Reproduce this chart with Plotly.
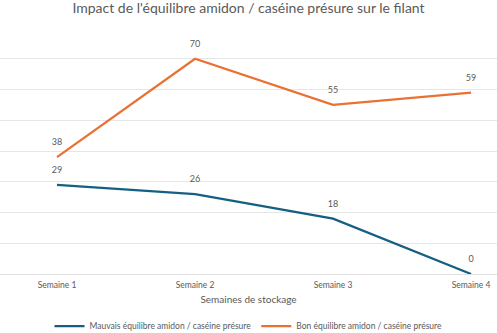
import plotly.graph_objects as go

categories = ["Semaine 1", "Semaine 2", "Semaine 3", "Semaine 4"]
mauvais = [29, 26, 18, 0]
bon = [38, 70, 55, 59]
name_mauvais = "Mauvais équilibre amidon / caséine présure"
name_bon = "Bon équilibre amidon / caséine présure"

FONT = "Lato"
GREY = "#595959"

fig = go.Figure()
for vals, name, color in [(mauvais, name_mauvais, "#156082"), (bon, name_bon, "#E97132")]:
    fig.add_trace(go.Scatter(
        x=list(range(len(categories))), y=vals, name=name,
        mode="lines+markers+text", text=[str(v) for v in vals], textposition="top center",
        textfont=dict(size=9, color=GREY, family=FONT),
        marker=dict(size=14, color="rgba(0,0,0,0)"),
        line=dict(color=color, width=2.25),
    ))

fig.update_layout(
    width=497, height=333,
    margin=dict(l=0, r=0, t=28, b=59, autoexpand=False),
    paper_bgcolor="white", plot_bgcolor="white",
    font=dict(family=FONT, color=GREY),
    title=dict(text="Impact de l'équilibre amidon / caséine présure sur le filant",
               x=0.5, xanchor="center", y=0.975, yanchor="middle",
               font=dict(size=14, color="#5a5a5a", family=FONT, weight=400)),
    xaxis=dict(
        tickmode="array", tickvals=list(range(len(categories))), ticktext=categories,
        range=[-0.413, 3.188], showgrid=False, zeroline=False, showline=False,
        tickfont=dict(size=8.5, color=GREY, family=FONT), ticks="", ticklen=0,
        ticklabelstandoff=4,
        title=dict(text="Semaines de stockage", font=dict(size=10, color=GREY, family=FONT), standoff=7),
    ),
    yaxis=dict(
        range=[0, 80], dtick=10, showticklabels=False, showgrid=True,
        gridcolor="#E6E6E6", gridwidth=1, zeroline=True, zerolinecolor="#E0E0E0",
        zerolinewidth=1, ticks="",
    ),
    legend=dict(orientation="h", x=0.5, xanchor="center", yref="paper", y=-0.212,
                yanchor="middle", font=dict(size=8.5, color=GREY, family=FONT),
                itemwidth=30, tracegroupgap=0),
    showlegend=True,
)

fig.write_html("out.html")
